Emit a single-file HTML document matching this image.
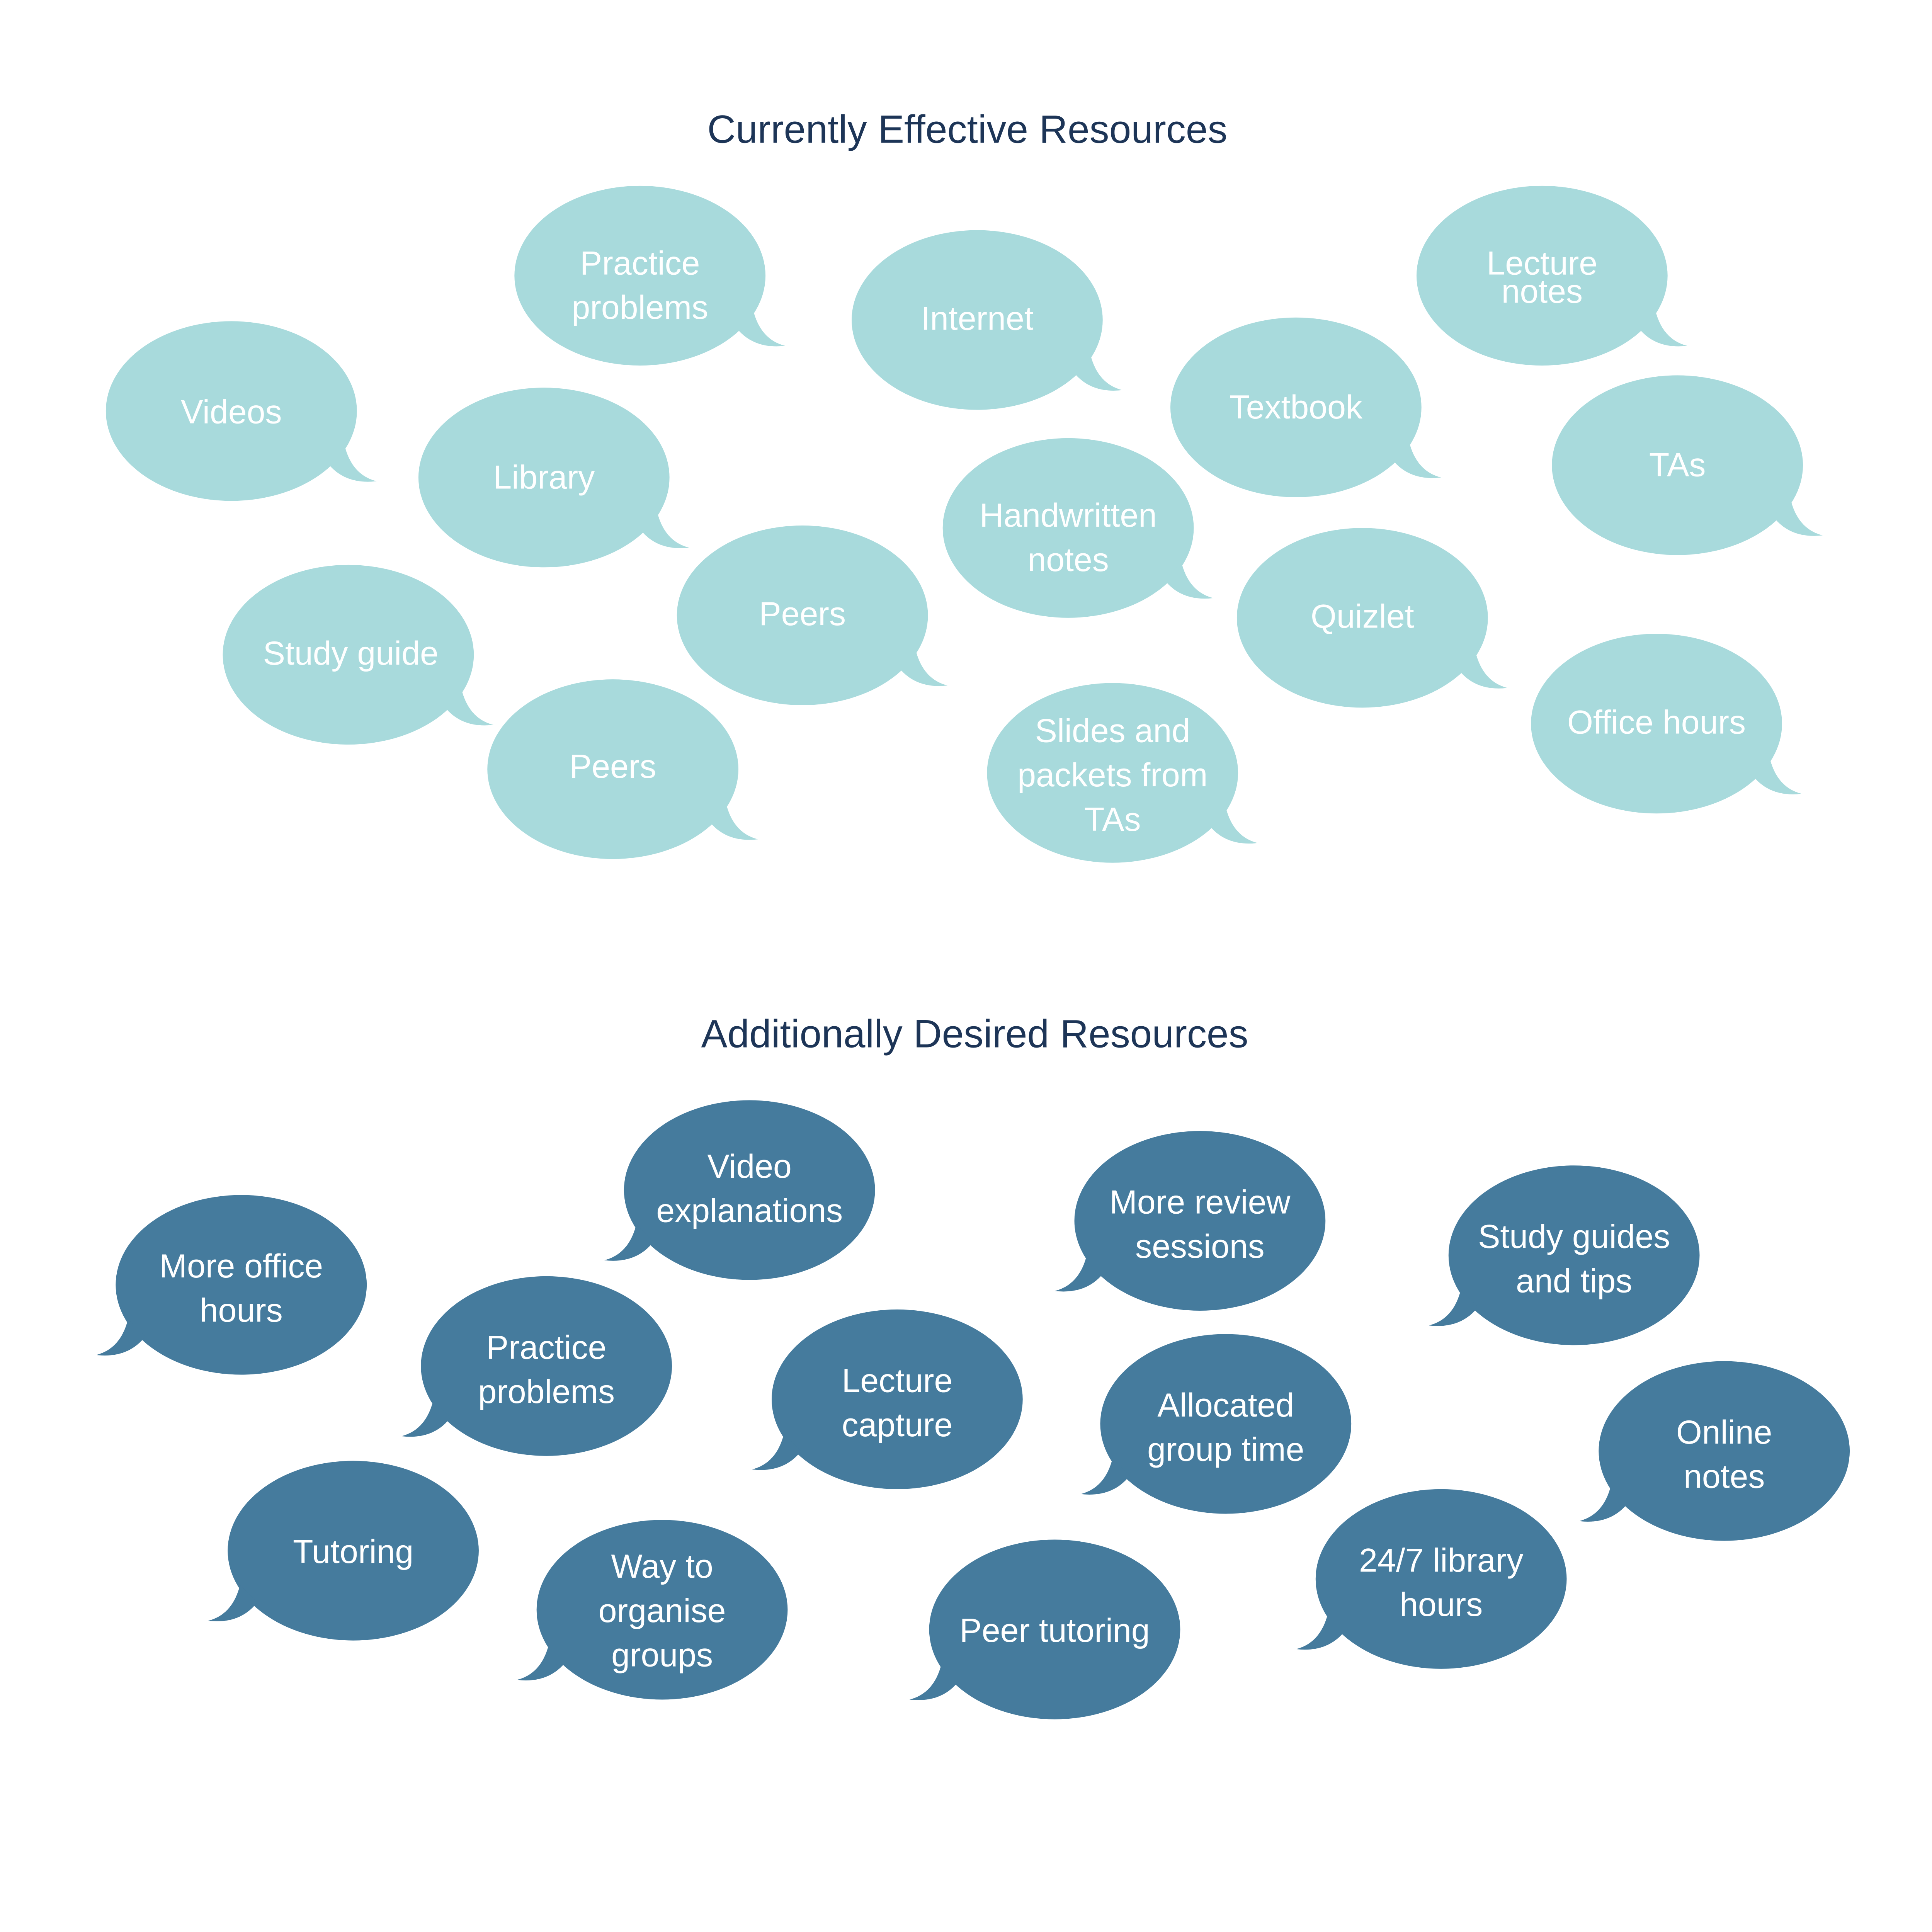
<!DOCTYPE html>
<html><head><meta charset="utf-8"><style>
html,body{margin:0;padding:0;background:#fff;overflow:hidden;}
svg{display:block}
text{font-family:"Liberation Sans","DejaVu Sans",sans-serif;}
.t{fill:#fff;font-size:27px;text-anchor:middle;font-weight:500}
.h{fill:#1d3557;font-size:32px;text-anchor:middle}
.l{fill:#a8dadc}
.d{fill:#457b9d}
</style></head><body>
<svg width="5680" height="5526" viewBox="0 0 1783 1735" preserveAspectRatio="xMinYMin meet" xmlns="http://www.w3.org/2000/svg">
<defs>
<g id="bl"><ellipse cx="0" cy="0" rx="102" ry="73"/><path d="M78 42 Q92 60 118 57 Q98 52 92 28 Z"/></g>
<g id="bd"><ellipse cx="0" cy="0" rx="102" ry="73"/><path d="M-78 42 Q-92 60 -118 57 Q-98 52 -92 28 Z"/></g>
</defs>
<text class="h" x="786" y="116">Currently Effective Resources</text>
<text class="h" x="792" y="851">Additionally Desired Resources</text>

<g class="l">
<use href="#bl" x="520" y="224"/>
<use href="#bl" x="794" y="260"/>
<use href="#bl" x="1253" y="224"/>
<use href="#bl" x="188" y="334"/>
<use href="#bl" x="1053" y="331"/>
<use href="#bl" x="1363" y="378"/>
<use href="#bl" x="442" y="388"/>
<use href="#bl" x="868" y="429"/>
<use href="#bl" x="283" y="532"/>
<use href="#bl" x="652" y="500"/>
<use href="#bl" x="1107" y="502"/>
<use href="#bl" x="1346" y="588"/>
<use href="#bl" x="498" y="625"/>
<use href="#bl" x="904" y="628"/>
</g>
<g class="t">
<text x="520" y="223">Practice</text><text x="520" y="259">problems</text>
<text x="794" y="268">Internet</text>
<text x="1253" y="223">Lecture</text><text x="1253" y="246">notes</text>
<text x="188" y="344">Videos</text>
<text x="1053" y="340">Textbook</text>
<text x="1363" y="387">TAs</text>
<text x="442" y="397">Library</text>
<text x="868" y="428">Handwritten</text><text x="868" y="464">notes</text>
<text x="285" y="540">Study guide</text>
<text x="652" y="508">Peers</text>
<text x="1107" y="510">Quizlet</text>
<text x="1346" y="596">Office hours</text>
<text x="498" y="632">Peers</text>
<text x="904" y="603">Slides and</text><text x="904" y="639">packets from</text><text x="904" y="675">TAs</text>
</g>

<g class="d">
<use href="#bd" x="609" y="967"/>
<use href="#bd" x="975" y="992"/>
<use href="#bd" x="196" y="1044"/>
<use href="#bd" x="1279" y="1020"/>
<use href="#bd" x="444" y="1110"/>
<use href="#bd" x="729" y="1137"/>
<use href="#bd" x="996" y="1157"/>
<use href="#bd" x="1401" y="1179"/>
<use href="#bd" x="287" y="1260"/>
<use href="#bd" x="538" y="1308"/>
<use href="#bd" x="1171" y="1283"/>
<use href="#bd" x="857" y="1324"/>
</g>
<g class="t">
<text x="609" y="957">Video</text><text x="609" y="993">explanations</text>
<text x="975" y="986">More review</text><text x="975" y="1022">sessions</text>
<text x="196" y="1038">More office</text><text x="196" y="1074">hours</text>
<text x="1279" y="1014">Study guides</text><text x="1279" y="1050">and tips</text>
<text x="444" y="1104">Practice</text><text x="444" y="1140">problems</text>
<text x="729" y="1131">Lecture</text><text x="729" y="1167">capture</text>
<text x="996" y="1151">Allocated</text><text x="996" y="1187">group time</text>
<text x="1401" y="1173">Online</text><text x="1401" y="1209">notes</text>
<text x="287" y="1270">Tutoring</text>
<text x="538" y="1282">Way to</text><text x="538" y="1318">organise</text><text x="538" y="1354">groups</text>
<text x="1171" y="1277">24/7 library</text><text x="1171" y="1313">hours</text>
<text x="857" y="1334">Peer tutoring</text>
</g>
</svg>
</body></html>
